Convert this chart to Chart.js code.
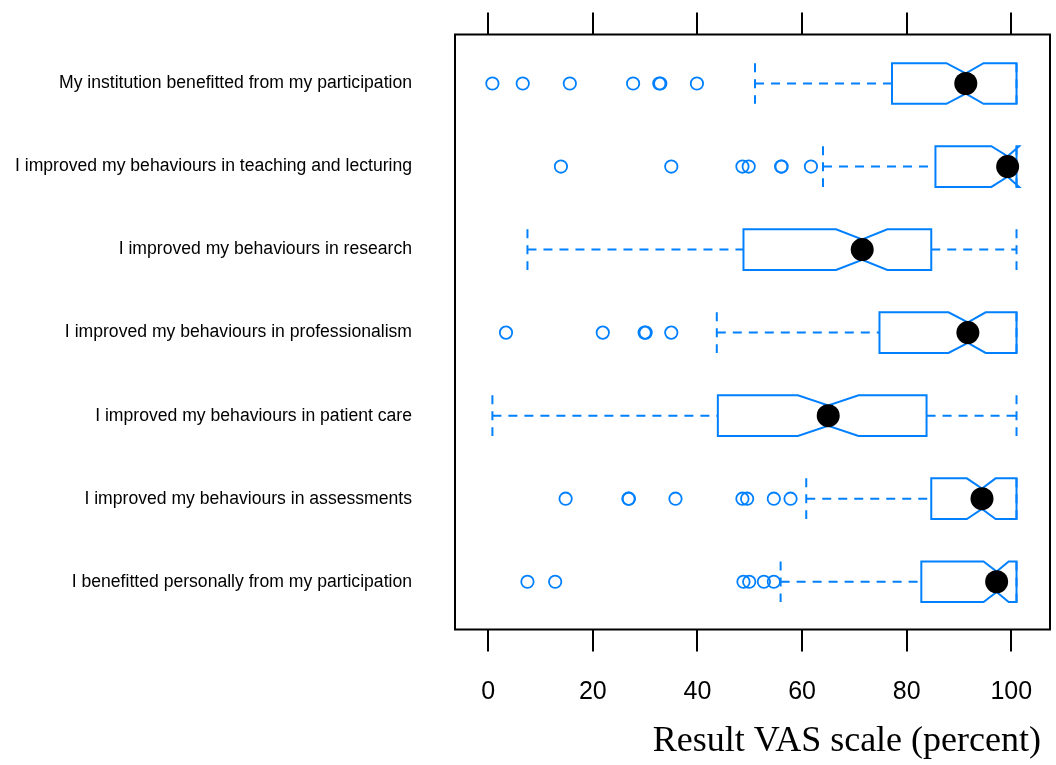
<!DOCTYPE html>
<html>
<head>
<meta charset="utf-8">
<script src="https://cdn.jsdelivr.net/npm/chart.js@4/dist/chart.umd.min.js"></script>
<style>
  html, body { margin: 0; padding: 0; background: #ffffff; }
  #wrap { width: 1056px; height: 765px; }
</style>
</head>
<body>
<div id="wrap"><canvas id="vas" width="1056" height="765"></canvas></div>
<script>
// Survey items, listed from the top row to the bottom row
const CATEGORIES = [
  'My institution benefitted from my participation',
  'I improved my behaviours in teaching and lecturing',
  'I improved my behaviours in research',
  'I improved my behaviours in professionalism',
  'I improved my behaviours in patient care',
  'I improved my behaviours in assessments',
  'I benefitted personally from my participation'
];

// Five-number summaries (VAS percent)
const WHISKER_LOW  = [51.0, 64.0,   7.5, 43.7,  0.8, 60.8, 55.9];
const Q1           = [77.2, 85.5,  48.8, 74.8, 43.9, 84.7, 82.8];
const MEDIAN       = [91.3, 99.3,  71.5, 91.7, 65.0, 94.4, 97.2];
const Q3           = [101,  101,   84.7, 101,  83.8, 101,  101];
const WHISKER_HIGH = [101,  101,   101,  101,  101,  101,  101];

// Notch limits around each median
const NOTCH_LOW    = [87.6, 96.2, 66.5, 88.0, 59.2, 91.5, 94.7];
const NOTCH_HIGH   = [94.7, 101.5, 76.3, 95.1, 70.8, 97.0, 99.5];

// Values beyond the whiskers
const OUTLIERS = [
  [0.8, 6.6, 15.6, 27.7, 32.7, 32.9, 39.9],
  [13.9, 35.0, 48.6, 49.8, 56.0, 56.1, 61.7],
  [],
  [3.4, 21.9, 29.9, 30.1, 35.0],
  [],
  [14.8, 26.8, 26.9, 35.8, 48.6, 49.5, 54.6, 57.8],
  [7.5, 12.8, 48.8, 49.9, 52.7, 54.6]
];

const X_TICKS = [0, 20, 40, 60, 80, 100];
const X_TITLE = 'Result VAS scale (percent)';

// Drawing constants
const BLUE = '#0080ff';
const HALF_BOX = 0.245;     // half box height, in row units
const NOTCH_FRAC = 0.5;     // box width kept at the notch
const X_MIN = -6.35, X_MAX = 107.4;
const Y_MIN = 0.41, Y_MAX = 7.575;

const gap = () => ({ x: null, y: null });
const rowOf = i => i + 1;

// Notched box outlines
const boxPath = [];
CATEGORIES.forEach((_, i) => {
  const y = rowOf(i), t = y - HALF_BOX, b = y + HALF_BOX;
  const nt = y - HALF_BOX * NOTCH_FRAC, nb = y + HALF_BOX * NOTCH_FRAC;
  boxPath.push(
    { x: Q1[i], y: t }, { x: NOTCH_LOW[i], y: t }, { x: MEDIAN[i], y: nt },
    { x: NOTCH_HIGH[i], y: t }, { x: Q3[i], y: t }, { x: Q3[i], y: b },
    { x: NOTCH_HIGH[i], y: b }, { x: MEDIAN[i], y: nb }, { x: NOTCH_LOW[i], y: b },
    { x: Q1[i], y: b }, { x: Q1[i], y: t }, gap()
  );
});

// Dashed whiskers and their end caps
const whiskerPath = [];
CATEGORIES.forEach((_, i) => {
  const y = rowOf(i), t = y - HALF_BOX, b = y + HALF_BOX;
  whiskerPath.push(
    { x: WHISKER_LOW[i], y }, { x: Q1[i], y }, gap(),
    { x: Q3[i], y }, { x: WHISKER_HIGH[i], y }, gap(),
    { x: WHISKER_LOW[i], y: t }, { x: WHISKER_LOW[i], y: b }, gap(),
    { x: WHISKER_HIGH[i], y: t }, { x: WHISKER_HIGH[i], y: b }, gap()
  );
});

const outlierPoints = OUTLIERS.flatMap((vals, i) => vals.map(v => ({ x: v, y: rowOf(i) })));
const medianPoints = MEDIAN.map((v, i) => ({ x: v, y: rowOf(i) }));

const framePlugin = {
  id: 'panelFrame',
  afterDatasetsDraw(chart) {
    const { ctx, chartArea: a } = chart;
    ctx.save();
    ctx.strokeStyle = '#000';
    ctx.lineWidth = 2;
    ctx.strokeRect(a.left, a.top, a.right - a.left, a.bottom - a.top);
    ctx.restore();
  }
};

// Fixed axis sizes; label overhang padding is not needed here
const fitTo = (w, h) => s => {
  if (w !== null) s.width = w;
  if (h !== null) s.height = h;
  s.paddingTop = 0; s.paddingBottom = 0; s.paddingLeft = 0; s.paddingRight = 0;
};

const fixedTicks = axis => { axis.ticks = X_TICKS.map(v => ({ value: v })); };
const tickGrid = {
  display: true, drawOnChartArea: false, drawTicks: true,
  tickLength: 22, color: '#000', lineWidth: 2
};

new Chart(document.getElementById('vas'), {
  type: 'scatter',
  data: {
    datasets: [
      {
        label: 'median', data: medianPoints, showLine: false,
        pointRadius: 11.5, pointBackgroundColor: '#000', pointBorderWidth: 0
      },
      {
        label: 'outliers', data: outlierPoints, showLine: false,
        pointStyle: 'circle', pointRadius: 6.2, pointBorderWidth: 1.8,
        pointBorderColor: BLUE, pointBackgroundColor: 'rgba(0,0,0,0)'
      },
      {
        label: 'box', data: boxPath, showLine: true, spanGaps: false,
        borderColor: BLUE, borderWidth: 2, pointRadius: 0,
        borderJoinStyle: 'miter', borderCapStyle: 'square', fill: false
      },
      {
        label: 'whiskers', data: whiskerPath, showLine: true, spanGaps: false,
        borderColor: BLUE, borderWidth: 2, pointRadius: 0, borderDash: [9, 7],
        borderCapStyle: 'butt', fill: false
      }
    ]
  },
  options: {
    responsive: false,
    animation: false,
    events: [],
    layout: { autoPadding: false, padding: { top: 12.5, left: 0, right: 6, bottom: 0 } },
    plugins: { legend: { display: false }, tooltip: { enabled: false } },
    scales: {
      x: {
        type: 'linear', position: 'bottom', min: X_MIN, max: X_MAX,
        afterBuildTicks: fixedTicks,
        afterFit: fitTo(null, 135.5),
        grid: tickGrid,
        border: { display: false },
        ticks: {
          autoSkip: false, maxRotation: 0, padding: 25.5, color: '#000',
          font: { family: '"Liberation Sans", Arial, sans-serif', size: 25 }
        },
        title: {
          display: true, text: X_TITLE + ' ', align: 'end', color: '#000',
          padding: { top: 0, bottom: 1.4 },
          font: { family: '"Liberation Serif", "Times New Roman", serif', size: 36 }
        }
      },
      xTop: {
        type: 'linear', position: 'top', min: X_MIN, max: X_MAX,
        afterBuildTicks: fixedTicks,
        afterFit: fitTo(null, 22),
        grid: tickGrid,
        border: { display: false },
        ticks: { display: false }
      },
      y: {
        type: 'linear', position: 'left', reverse: true, min: Y_MIN, max: Y_MAX,
        afterBuildTicks: axis => { axis.ticks = CATEGORIES.map((_, i) => ({ value: rowOf(i) })); },
        afterFit: fitTo(455, null),
        grid: { display: false, drawTicks: false },
        border: { display: false },
        ticks: {
          autoSkip: false, padding: 43, color: '#000',
          font: { family: '"Liberation Sans", Arial, sans-serif', size: 17.6 },
          callback: v => CATEGORIES[Math.round(v) - 1]
        }
      }
    }
  },
  plugins: [framePlugin]
});
</script>
</body>
</html>
